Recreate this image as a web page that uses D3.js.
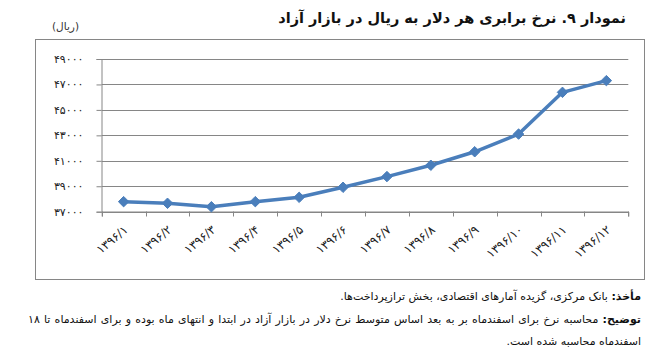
<!DOCTYPE html>
<html lang="fa">
<head>
<meta charset="utf-8">
<script src="https://d3js.org/d3.v7.min.js"></script>
<style>
  body { margin: 0; background: #fff; font-family: "DejaVu Sans", sans-serif; }
  #wrap { position: relative; width: 662px; height: 362px; overflow: hidden; }
  .rtl { position: absolute; direction: rtl; color: #111; white-space: nowrap; line-height: 1; }
  .note { font-size: 11px; }
  .note b { font-weight: bold; }
</style>
</head>
<body>
<div id="wrap">
  <svg id="chart" width="662" height="362" style="position:absolute;left:0;top:0"></svg>
  <div class="rtl" id="title" style="right:36px;top:11px;font-size:14.5px;font-weight:bold;"></div>
  <div class="rtl" id="unit" style="left:52px;top:21px;font-size:10.5px;color:#333;"></div>
  <div class="rtl note" id="n1" style="right:21px;top:291px;"></div>
  <div class="rtl note" id="n2" style="right:21px;top:314px;width:613px;text-align:justify;text-align-last:justify;"></div>
  <div class="rtl note" id="n3" style="right:21px;top:336px;"></div>
</div>
<script>
const months = ["۱۳۹۶/۱","۱۳۹۶/۲","۱۳۹۶/۳","۱۳۹۶/۴","۱۳۹۶/۵","۱۳۹۶/۶","۱۳۹۶/۷","۱۳۹۶/۸","۱۳۹۶/۹","۱۳۹۶/۱۰","۱۳۹۶/۱۱","۱۳۹۶/۱۲"];
const rates = [37790, 37660, 37390, 37790, 38130, 38920, 39760, 40650, 41710, 43100, 46380, 47300];
const yTicks = [37000, 39000, 41000, 43000, 45000, 47000, 49000];

const title = "نمودار ۹. نرخ برابری هر دلار به ریال در بازار آزاد";
const unit = "(ریال)";
const source = ["مأخذ:", " بانک مرکزی، گزیده آمارهای اقتصادی، بخش ترازپرداخت‌ها."];
const note = ["توضیح:", " محاسبه نرخ برای اسفندماه بر به بعد اساس متوسط نرخ دلار در بازار آزاد در ابتدا و انتهای ماه بوده و برای اسفندماه تا ۱۸"];
const noteEnd = "اسفندماه محاسبه شده است.";

const faDigits = n => String(n).replace(/\d/g, d => "۰۱۲۳۴۵۶۷۸۹"[d]);

const svg = d3.select("#chart");
const grid = "#868686";

// outer frame
svg.append("rect").attr("x", 35.5).attr("y", 39.5).attr("width", 609).attr("height", 240)
   .attr("fill", "none").attr("stroke", grid).attr("stroke-width", 1);

const x = d3.scaleBand().domain(months).range([101.7, 628.3]);
const y = d3.scaleLinear().domain([37000, 49000]).range([211.7, 59]);

// gridlines
svg.append("g").selectAll("line").data(yTicks).join("line")
   .attr("x1", 101.7).attr("x2", 628.3)
   .attr("y1", d => Math.round(y(d)) + 0.5).attr("y2", d => Math.round(y(d)) + 0.5)
   .attr("stroke", grid);

const yAxis = svg.append("g").attr("transform", "translate(101.5,0)")
   .call(d3.axisLeft(y).tickValues(yTicks).tickSize(5).tickPadding(13).tickFormat(faDigits));
const xAxis = svg.append("g").attr("transform", "translate(0,211.5)")
   .call(d3.axisBottom(x).tickSize(5).tickFormat(""));
// ticks sit on the band edges
xAxis.selectAll(".tick").remove();
xAxis.selectAll("line.edge").data(months.concat([null])).join("line").attr("class", "edge")
   .attr("x1", (d, i) => Math.round(101.7 + i * x.step()) + 0.5)
   .attr("x2", (d, i) => Math.round(101.7 + i * x.step()) + 0.5)
   .attr("y1", 0).attr("y2", 5).attr("stroke", grid);

[yAxis, xAxis].forEach(a => {
  a.selectAll(".domain").attr("stroke", grid);
  a.selectAll(".tick line").attr("stroke", grid);
});
yAxis.selectAll("text").style("font-size", "11px").attr("fill", "#222").style("font-family", "DejaVu Sans");

svg.append("g").selectAll("text").data(months).join("text")
   .attr("transform", d => `translate(${x(d) + x.bandwidth() / 2 + 5},231) rotate(-40)`)
   .attr("text-anchor", "end").style("font-size", "12px").attr("fill", "#222")
   .text(d => d);

const cx = d => x(d) + x.bandwidth() / 2;
const line = d3.line().x(d => cx(d[0])).y(d => y(d[1]));
const pts = months.map((m, i) => [m, rates[i]]);

svg.append("path").datum(pts).attr("d", line).attr("fill", "none")
   .attr("stroke", "#4a7ebb").attr("stroke-width", 3.5).attr("stroke-linejoin", "round");

svg.append("g").selectAll("path").data(pts).join("path")
   .attr("d", d3.symbol(d3.symbolDiamond2, 70))
   .attr("transform", d => `translate(${cx(d[0])},${y(d[1])})`)
   .attr("fill", "#4a7ebb").attr("stroke", "#4a7ebb").attr("stroke-width", 1);

d3.select("#title").text(title);
d3.select("#unit").text(unit);
d3.select("#n1").html(`<b>${source[0]}</b>${source[1]}`);
d3.select("#n2").html(`<b>${note[0]}</b>${note[1]}`);
d3.select("#n3").text(noteEnd);
</script>
</body>
</html>
